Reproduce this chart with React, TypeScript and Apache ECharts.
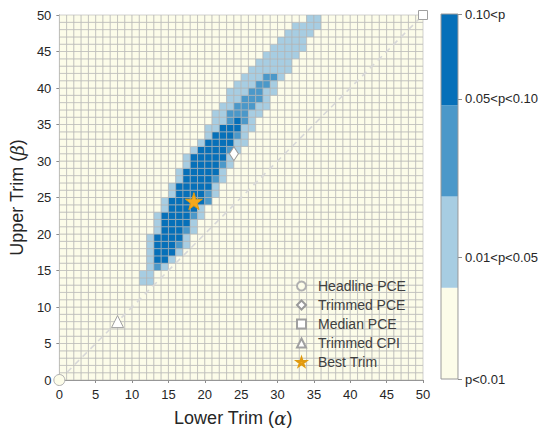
import React, { useEffect, useRef } from "react";
import * as echarts from "echarts";

// ---- data ----
// band of significant trims: per upper-trim row (beta), the alpha range of each p-level
const lightRows = [13, 14, 15, 16, 17, 18, 19, 20, 21, 22, 23, 24, 25, 26, 27, 28, 29, 30, 31, 32, 33, 34, 35, 36, 37, 38, 39, 40, 41, 42, 43, 44, 45, 46, 47, 48, 49];
const lightLo = [11, 11, 12, 12, 12, 12, 12, 13, 13, 13, 14, 14, 15, 15, 16, 16, 17, 17, 18, 19, 20, 20, 21, 21, 22, 23, 23, 24, 25, 26, 27, 28, 29, 30, 31, 32, 34];
const lightHi = [12, 12, 14, 15, 16, 17, 17, 18, 18, 19, 19, 20, 21, 21, 22, 22, 23, 23, 24, 25, 25, 26, 26, 27, 28, 28, 29, 29, 30, 31, 31, 32, 33, 33, 34, 35, 35];

const medRows = [15, 16, 17, 18, 19, 20, 21, 22, 23, 24, 25, 26, 27, 28, 29, 30, 31, 32, 33, 34, 35, 36, 37, 38, 39, 40, 41];
const medLo = [13, 13, 13, 13, 13, 14, 14, 14, 15, 15, 16, 16, 17, 17, 18, 18, 19, 20, 21, 22, 23, 23, 24, 25, 26, 27, 28];
const medHi = [13, 14, 15, 16, 16, 17, 17, 18, 18, 20, 20, 20, 21, 21, 22, 22, 23, 23, 24, 24, 25, 25, 26, 27, 27, 28, 29];

const darkRows = [16, 17, 18, 19, 20, 21, 22, 23, 24, 25, 26, 27, 28, 29, 30, 31, 32, 33, 34, 35];
const darkLo = [13, 13, 13, 13, 14, 14, 14, 15, 15, 16, 16, 17, 17, 18, 18, 19, 20, 21, 22, 24];
const darkHi = [14, 15, 15, 16, 16, 17, 17, 18, 19, 19, 20, 20, 21, 21, 22, 22, 23, 23, 24, 24];

const levelLabels = ["p<0.01", "0.01<p<0.05", "0.05<p<0.10", "0.10<p"];
const colorbarTickValues = [0, 1.33, 3.07, 4];
const axisTicks = [0, 5, 10, 15, 20, 25, 30, 35, 40, 45, 50];

const markerNames = ["Headline PCE", "Trimmed PCE", "Median PCE", "Trimmed CPI", "Best Trim"];
const markerAlpha = [0, 24, 50, 8, 18.5];
const markerBeta = [0, 31, 50, 8, 24.5];

// ---- styles ----
const levelColors = ["#fcfce9", "#a7cde2", "#4b98c9", "#0670b9"];
const FONT = "'Liberation Sans', Arial, Helvetica, sans-serif";
const STAR = "path://M50,0 L61,35 L98,35 L68,57 L79,91 L50,70 L21,91 L32,57 L2,35 L39,35 Z";
const markerStyle: any[] = [
  { symbol: "circle", size: 11, fill: "#fcfce9", stroke: "#b0b0b0", icon: "circle" },
  { symbol: "diamond", size: [9, 14], fill: "#ffffff", stroke: "#999999", icon: "diamond" },
  { symbol: "rect", size: 9, fill: "#ffffff", stroke: "#a0a0a0", icon: "rect" },
  { symbol: "triangle", size: 12, fill: "#ffffff", stroke: "#a0a0a0", icon: "triangle" },
  { symbol: STAR, size: 17, fill: "#f4a81c", stroke: "#e09a10", icon: STAR },
];

function inRow(rows: number[], lo: number[], hi: number[], a: number, b: number) {
  const i = rows.indexOf(b);
  return i >= 0 && a >= lo[i] && a <= hi[i];
}

function buildCells() {
  const cells: number[][] = [];
  for (let b = 0; b < 50; b++) {
    for (let a = 0; a < 50; a++) {
      let lv = 0;
      if (inRow(lightRows, lightLo, lightHi, a, b)) lv = 1;
      if (inRow(medRows, medLo, medHi, a, b)) lv = 2;
      if (inRow(darkRows, darkLo, darkHi, a, b)) lv = 3;
      cells.push([a, b, lv]);
    }
  }
  return cells;
}

export default function App() {
  const ref = useRef<HTMLDivElement>(null);
  useEffect(() => {
    if (!ref.current) return;
    const chart = echarts.init(ref.current, undefined, { renderer: "svg" });
    const cells = buildCells();
    const nameStyle = {
      fontSize: 18,
      color: "#262626",
      fontFamily: FONT,
      rich: { g: { fontSize: 18, fontFamily: "'DejaVu Serif', serif", fontStyle: "italic", color: "#262626" } },
    };
    const axisCommon = {
      type: "value",
      min: 0,
      max: 50,
      interval: 5,
      splitLine: { show: false },
      axisLine: { show: true, lineStyle: { color: "#8c8c8c", width: 1 } },
      axisTick: { show: true, inside: false, length: 3, lineStyle: { color: "#8c8c8c" } },
      axisLabel: { color: "#262626", fontSize: 13, fontFamily: FONT, margin: 8 },
      nameLocation: "middle",
    };
    const scatterSeries = markerNames.map((name, i) => ({
      type: "scatter",
      name,
      xAxisIndex: 0,
      yAxisIndex: 0,
      symbol: markerStyle[i].symbol,
      symbolSize: markerStyle[i].size,
      clip: false,
      z: 5,
      itemStyle: { color: markerStyle[i].fill, borderColor: markerStyle[i].stroke, borderWidth: 1, opacity: 1 },
      data: [[markerAlpha[i], markerBeta[i]]],
    }));
    const cbSeries = levelLabels.map((lab, i) => ({
      type: "bar",
      name: "cb" + i,
      xAxisIndex: 1,
      yAxisIndex: 1,
      stack: "cb",
      barWidth: "100%",
      itemStyle: { color: levelColors[i] },
      data: [1],
    }));
    chart.setOption({
      animation: false,
      backgroundColor: "#ffffff",
      textStyle: { fontFamily: FONT },
      grid: [
        { left: 58, top: 15, width: 365, height: 365 },
        { left: 441, top: 14, width: 17, height: 365, show: true, borderColor: "#9a9a9a", borderWidth: 1, backgroundColor: "transparent", z: 10 },
      ],
      xAxis: [
        {
          ...axisCommon,
          gridIndex: 0,
          name: "Lower Trim ({g|α})",
          nameGap: 29,
          nameTextStyle: { ...nameStyle, padding: [0, 16, 0, 0] },
        },
        { type: "category", gridIndex: 1, data: ["cb"], show: false },
      ],
      yAxis: [
        {
          ...axisCommon,
          gridIndex: 0,
          name: "Upper Trim ({g|β})",
          nameGap: 30,
          nameTextStyle: nameStyle,
        },
        {
          type: "value",
          gridIndex: 1,
          position: "right",
          min: 0,
          max: 4,
          splitLine: { show: false },
          axisLine: { show: false },
          axisTick: { show: true, length: 4, lineStyle: { color: "#8c8c8c" }, customValues: colorbarTickValues },
          axisLabel: {
            color: "#262626",
            fontSize: 13,
            fontFamily: FONT,
            margin: 7,
            customValues: colorbarTickValues,
            formatter: (v: number) => {
              const i = colorbarTickValues.findIndex((t) => Math.abs(t - v) < 1e-6);
              return i >= 0 ? levelLabels[i] : "";
            },
          },
        },
      ],
      legend: {
        orient: "vertical",
        left: 291,
        top: 274,
        itemWidth: 9,
        itemHeight: 9,
        itemGap: 5,
        textStyle: { fontSize: 14, color: "#404040", fontFamily: FONT, padding: [0, 0, 0, 7] },
        data: markerNames.map((n, i) => ({ name: n, icon: markerStyle[i].icon })),
      },
      series: [
        {
          type: "custom",
          name: "cells",
          xAxisIndex: 0,
          yAxisIndex: 0,
          encode: { x: 0, y: 1 },
          z: 1,
          silent: true,
          renderItem: (params: any, api: any) => {
            const a = api.value(0);
            const b = api.value(1);
            const lv = api.value(2);
            const p0 = api.coord([a, b + 1]);
            const p1 = api.coord([a + 1, b]);
            return {
              type: "rect",
              shape: { x: p0[0], y: p0[1], width: p1[0] - p0[0], height: p1[1] - p0[1] },
              style: { fill: levelColors[lv], stroke: "#b2b2b2", lineWidth: 0.6 },
            };
          },
          data: cells,
        },
        {
          type: "line",
          name: "diag",
          xAxisIndex: 0,
          yAxisIndex: 0,
          symbol: "none",
          z: 3,
          silent: true,
          lineStyle: { color: "#d8d8d8", width: 1.6, type: [6, 5] },
          data: [
            [axisTicks[0], axisTicks[0]],
            [axisTicks[axisTicks.length - 1], axisTicks[axisTicks.length - 1]],
          ],
        },
        ...scatterSeries,
        ...cbSeries,
      ],
    });
    return () => chart.dispose();
  }, []);
  return <div ref={ref} style={{ position: "fixed", left: 0, top: 0, width: 541, height: 433 }} />;
}
